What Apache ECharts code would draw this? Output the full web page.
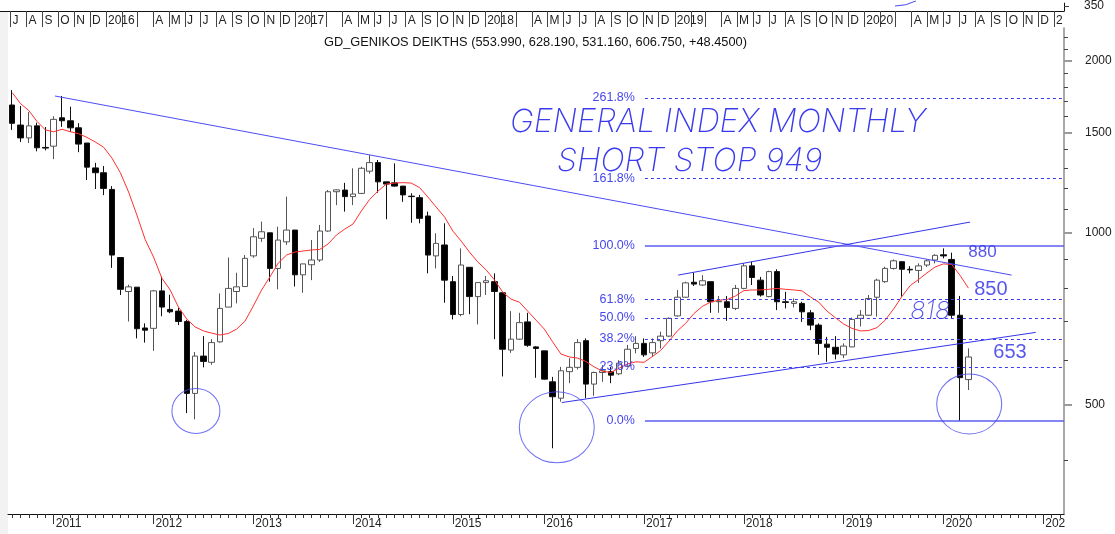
<!DOCTYPE html>
<html>
<head>
<meta charset="utf-8">
<title>GD_GENIKOS DEIKTHS</title>
<script src="https://cdn.jsdelivr.net/npm/echarts@6/dist/echarts.min.js"></script>
<style>
html,body{margin:0;padding:0;background:#fff;}
#main{width:1115px;height:534px;}
</style>
</head>
<body>
<div id="main"></div>
<script>
// monthly bars Aug 2010 - Apr 2020, there was no trading in Jul 2015
var candles = [ // open, close, low, high
  [1675,1556,1515,1779],[1545,1467,1443,1668],[1467,1540,1437,1628],[1540,1410,1390,1560],[1412,1408,1395,1533],
  [1419,1581,1347,1601],[1591,1572,1534,1737],[1572,1528,1504,1664],[1528,1431,1385,1557],[1437,1304,1238,1437],
  [1300,1275,1194,1327],[1275,1197,1165,1310],[1192,915,869,1208],[906,797,779,906],[790,805,700,812],
  [804,680,654,804],[682,676,643,695],
  [681,792,622,795],[792,742,715,840],[735,728,724,780],[730,700,690,740],[700,524,484,705],
  [524,609,472,619],[609,596,582,660],[594,643,588,652],[645,738,643,784],[742,800,742,906],
  [790,805,753,852],[806,903,805,915],
  [912,985,905,1020],[979,1005,965,1047],[1001,867,822,1001],[867,972,797,1026],[965,1012,953,1158],
  [1012,845,806,1012],[845,883,786,883],[880,897,827,972],[897,1008,890,1033],[1008,1181,1005,1189],
  [1181,1190,1119,1192],[1189,1158,1090,1224],
  [1158,1170,1119,1298],[1173,1298,1170,1306],[1283,1328,1270,1370],[1328,1229,1176,1342],[1229,1218,1057,1229],
  [1224,1208,1205,1324],[1208,1166,1134,1208],[1160,1158,1042,1174],[1153,1061,1040,1166],[1071,915,850,1090],
  [912,959,867,999],[953,827,755,1040],
  [822,720,706,841],[720,879,715,940],[871,774,721,871],[774,819,692,819],[819,825,779,841],
  [822,790,652,850],[786,626,561,786],[624,652,617,730],[652,697,650,725],[699,636,632,725],
  [632,628,558,634],
  [622,555,554,622],[549,517,420,560],[514,574,507,583],[572,582,546,604],[582,643,577,652],
  [648,544,514,654],[544,570,519,572],[570,574,549,587],[572,564,546,583],[567,592,564,599],
  [585,626,583,637],[628,641,616,660],
  [641,612,607,654],[617,643,607,654],[648,660,628,672],[660,709,658,712],[716,772,714,795],
  [772,818,770,822],[820,814,808,852],[811,825,808,844],[822,758,725,822],[758,760,725,776],
  [758,741,702,776],[738,800,733,811],
  [800,876,797,885],[876,836,811,891],[827,779,774,838],[774,856,772,859],[856,758,733,864],
  [758,756,738,789],[753,758,741,768],[753,728,699,758],[725,690,676,733],[690,641,612,695],
  [639,631,595,658],[631,614,601,660],
  [612,634,604,641],[632,706,631,711],[709,718,686,733],[718,768,716,779],[772,827,714,832],
  [822,867,818,873],[867,894,863,899],[891,864,774,891],[864,862,850,875],[860,876,818,885],
  [879,894,872,899],[897,914,885,918],
  [916,912,903,940],[899,718,709,924],[718,558.3,469,776],[553.99,606.75,531.16,628.19]
];

var maValues = [
  1761,1685,1638,1567,1515,1504,1519,1504,1492,1470,
  1443,1413,1353,1276,1180,1075,974,908,834,795,
  742,707,685,674,668,663,667,679,701,745,
  795,838,886,915,926,930,934,936,957,992,
  1016,1037,1093,1145,1184,1218,1223,1225,1223,1201,
  1156,1110,1067,1008,968,926,890,862,828,788,
  766,757,730,704,679,645,614,607,604,596,
  583,573,570,580,590,595,594,608,623,647,
  674,695,723,744,757,763,765,776,793,795,
  795,797,800,797,795,792,773,757,730,711,
  693,681,674,675,683,704,736,774,809,829,
  851,872,883,881,843,801
];

var fibLabels = ['0.0%', '23.6%', '38.2%', '50.0%', '61.8%', '100.0%', '161.8%', '261.8%'];
var fibValues = [470, 583, 653, 710, 766, 949, 1245, 1724];
var fibStart = 76.1;

var trendLines = [
  [[5.15, 1737], [120.2, 844]],
  [[66.1, 505], [123.1, 670]],
  [[80.1, 844], [115.2, 1045]]
];
var circleCenters = [[22.1, 488], [65.5, 457], [115.1, 502]];
var notes = [['880', 116.7, 926], ['850', 117.7, 796], ['653', 120.0, 618], ['818', 110.4, 730]];

var minorTicks = [400, 600, 700, 800, 900, 1100, 1200, 1300, 1400, 1600, 1700, 1800, 1900, 2100, 2200];
var majorTicks = [500, 1000, 1500, 2000];
var yMin = 322.3, yMax = 2284.5;

var months = [];
for (var k = 2010 * 12 + 7; k <= 2021 * 12 + 2; k++) {
  var yy = Math.floor(k / 12), mm = k % 12 + 1;
  if (yy === 2015 && mm === 7) continue;
  months.push(yy + '-' + (mm < 10 ? '0' + mm : mm));
}

// upper strip: month starts, Jul 2015 - Jan 2021, as fractional years
var topMonthPos = [], topMonthName = [];
var monthLetters = ['J', 'F', 'M', 'A', 'M', 'J', 'J', 'A', 'S', 'O', 'N', 'D'];
for (k = 2015 * 12 + 6; k <= 2021 * 12; k++) {
  var ty = Math.floor(k / 12), tm = k % 12;
  topMonthPos.push(ty + (Date.UTC(ty, tm, 1) - Date.UTC(ty, 0, 1)) / (365 * 864e5));
  topMonthName.push(tm === 0 ? (ty === 2021 ? '2' : String(ty)) : (tm === 1 || tm === 2 ? '' : monthLetters[tm]));
}

function isJan(idx, val) { return val.slice(5) === '01'; }
function lg(v) { return Math.log(v) / Math.LN10; }

var last = candles[candles.length - 1], prev = candles[candles.length - 2];
var titleText = 'GD_GENIKOS DEIKTHS (' + last[0].toFixed(3) + ', ' + last[3].toFixed(3) + ', ' +
  last[2].toFixed(3) + ', ' + last[1].toFixed(3) + ', +' + (last[1] - prev[1]).toFixed(4) + ')';

var series = [];

series.push({
  type: 'line', xAxisIndex: 2, yAxisIndex: 0, data: [], z: 1, silent: true,
  markLine: {
    symbol: ['none', 'none'], silent: true, animation: false,
    label: { position: 'start', color: '#4646ee', fontSize: 12.5, distance: 10, fontFamily: 'Liberation Sans' },
    data: fibValues.map(function (v, i) {
      var solid = fibLabels[i] === '0.0%' || fibLabels[i] === '100.0%';
      return [
        { coord: [fibStart, v], label: { formatter: fibLabels[i] },
          lineStyle: solid ? { color: '#5c5cf0', width: 1.5, type: 'solid' } : { color: '#3a3aee', width: 1, type: [3, 3] } },
        { coord: [126.5, v] }
      ];
    })
  }
});

series.push({
  type: 'candlestick', xAxisIndex: 0, yAxisIndex: 0, barWidth: 6, z: 3,
  data: candles,
  itemStyle: { color: '#ffffff', color0: '#000000', borderColor: '#555555', borderColor0: '#111111', borderWidth: 1 }
});

series.push({
  type: 'line', xAxisIndex: 2, yAxisIndex: 0, z: 4, symbol: 'none', silent: true,
  data: maValues.map(function (v, i) { return [i, v]; }),
  lineStyle: { color: '#ff3030', width: 1 }
});

trendLines.forEach(function (t, i) {
  series.push({
    type: 'line', xAxisIndex: 2, yAxisIndex: 0, z: 4, symbol: 'none', silent: true,
    data: t, lineStyle: { color: i === 0 ? '#4c4cf4' : '#3434ea', width: 1 }
  });
});

var circleSizes = [[48, 45], [75, 71], [65, 60]];
series.push({
  type: 'scatter', xAxisIndex: 2, yAxisIndex: 0, z: 5, silent: true, symbol: 'circle',
  data: circleCenters.map(function (c, i) { return { value: c, symbolSize: circleSizes[i] }; }),
  itemStyle: { color: 'rgba(0,0,0,0)', borderColor: '#4a4af2', borderWidth: 1 }
});

var noteFont = { '880': 17, '850': 20, '653': 20, '818': 25 };
series.push({
  type: 'scatter', xAxisIndex: 2, yAxisIndex: 0, z: 6, silent: true, symbolSize: 1,
  itemStyle: { color: 'rgba(0,0,0,0)' },
  data: notes.map(function (n) {
    var hand = n[0] === '818';
    return {
      value: [n[1], n[2]],
      label: {
        show: true, position: 'inside', formatter: n[0], fontSize: noteFont[n[0]],
        color: '#2d2de8', fontStyle: hand ? 'italic' : 'normal',
        fontFamily: hand ? 'Inter' : 'Liberation Sans', fontWeight: hand ? 200 : 'normal'
      }
    };
  })
});

var chart = echarts.init(document.getElementById('main'));
var option = {
  animation: false,
  backgroundColor: '#ffffff',
  textStyle: { fontFamily: 'Liberation Sans' },
  title: {
    text: titleText, left: 319, top: 31,
    textStyle: { fontSize: 12.8, fontWeight: 'normal', color: '#111', fontFamily: 'Liberation Sans' }
  },
  grid: [
    { left: 8, right: 51, top: 28, bottom: 20 },
    { left: 0, right: 51, top: 0, height: 11 }
  ],
  xAxis: [
    { type: 'category', gridIndex: 0, position: 'bottom', data: months, boundaryGap: true,
      axisLine: { show: true, onZero: false, lineStyle: { color: '#111', width: 1 } },
      axisTick: { show: true, alignWithLabel: true, interval: 0, length: 4, lineStyle: { color: '#333' } },
      axisLabel: { show: false }, splitLine: { show: false } },
    { type: 'category', gridIndex: 0, position: 'bottom', data: months, boundaryGap: true,
      axisLine: { show: false, onZero: false },
      axisTick: { show: true, alignWithLabel: true, interval: isJan, length: 10, lineStyle: { color: '#333' } },
      axisLabel: { show: true, interval: isJan, align: 'left', margin: 4, padding: [0, 0, 0, 2], fontSize: 12, color: '#222',
        formatter: function (v) { var y = v.slice(0, 4); return y === '2021' ? '202' : y; } },
      splitLine: { show: false } },
    { type: 'value', gridIndex: 0, position: 'bottom', min: -0.5, max: 126.5, show: false,
      axisLine: { onZero: false }, splitLine: { show: false } },
    { type: 'value', gridIndex: 1, position: 'bottom', min: 2015.441, max: 2021.053,
      axisLine: { show: true, onZero: false, lineStyle: { color: '#111' } },
      axisTick: { show: true, customValues: topMonthPos, length: 16, lineStyle: { color: '#444' } },
      axisLabel: { customValues: topMonthPos, align: 'left', margin: 4, padding: [0, 0, 0, 2], fontSize: 12, color: '#222',
        formatter: function (v) {
          var best = 0;
          for (var i = 1; i < topMonthPos.length; i++) {
            if (Math.abs(topMonthPos[i] - v) < Math.abs(topMonthPos[best] - v)) best = i;
          }
          return topMonthName[best];
        } },
      splitLine: { show: false } }
  ],
  yAxis: [
    { type: 'log', logBase: 10, gridIndex: 0, position: 'right', min: yMin, max: yMax,
      axisLine: { show: false, onZero: false }, axisTick: { show: false }, axisLabel: { show: false }, splitLine: { show: false } },
    { type: 'value', gridIndex: 0, position: 'right', min: lg(yMin), max: lg(yMax),
      axisLine: { show: true, onZero: false, lineStyle: { color: '#8c8c8c', width: 1.5 } },
      axisTick: { show: true, customValues: minorTicks.map(lg), length: 4, lineStyle: { color: '#444' } },
      axisLabel: { show: false }, splitLine: { show: false } },
    { type: 'value', gridIndex: 0, position: 'right', min: lg(yMin), max: lg(yMax),
      axisLine: { show: false, onZero: false },
      axisTick: { show: true, customValues: majorTicks.map(lg), length: 8, lineStyle: { color: '#9a9a9a', width: 2 } },
      axisLabel: { customValues: majorTicks.map(lg), margin: 21, fontSize: 12, color: '#222',
        formatter: function (v) { return String(Math.round(Math.pow(10, v))); } },
      splitLine: { show: false } },
    { type: 'value', gridIndex: 1, position: 'right', min: 343, max: 354,
      axisLine: { show: true, onZero: false, lineStyle: { color: '#111' } },
      axisTick: { show: true, customValues: [350], length: 5, lineStyle: { color: '#444' } },
      axisLabel: { customValues: [350], margin: 20, fontSize: 12, color: '#222' },
      splitLine: { show: false } }
  ],
  graphic: [
    { type: 'rect', left: 0, top: 11, shape: { width: 8, height: 523 }, style: { fill: '#f2f2f2' }, silent: true, z: -10 },
    { type: 'arc', shape: { cx: 895, cy: -40, r: 46, startAngle: 1.1, endAngle: 1.5708 },
      style: { stroke: '#4848f0', fill: null, lineWidth: 1 }, silent: true },
    { type: 'text', x: 510, y: 122, silent: true,
      style: { text: 'GENERAL INDEX MONTHLY', fill: '#3a3aef', fontSize: 32, fontStyle: 'italic', fontWeight: 200,
        fontFamily: 'Inter', verticalAlign: 'middle' } },
    { type: 'text', x: 557, y: 161, silent: true,
      style: { text: 'SHORT STOP 949', fill: '#3a3aef', fontSize: 32, fontStyle: 'italic', fontWeight: 200,
        fontFamily: 'Inter', verticalAlign: 'middle' } }
  ],
  series: series
};
chart.setOption(option);
</script>
</body>
</html>
